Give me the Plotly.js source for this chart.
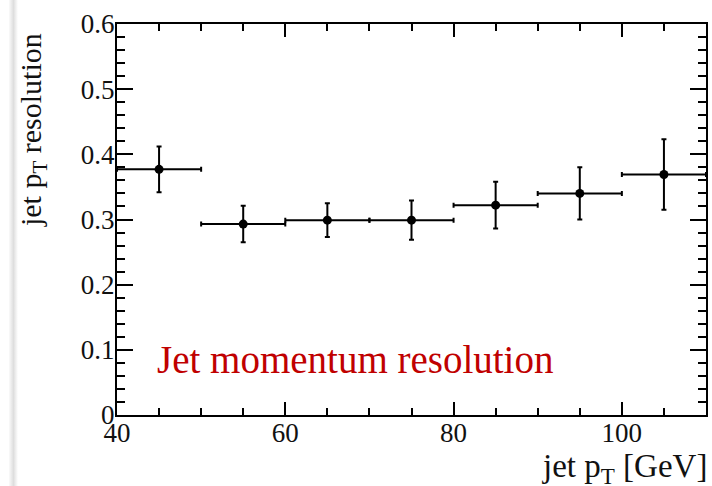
<!DOCTYPE html>
<html>
<head>
<meta charset="utf-8">
<script src="https://cdn.plot.ly/plotly-3.0.1.min.js"></script>
<style>
  html, body { margin: 0; padding: 0; background: #fff; }
  #chart { width: 712px; height: 486px; position: relative; }
  #edge {
    position: absolute; left: 9px; top: 0; width: 9px; height: 486px;
    background: linear-gradient(to right, rgba(0,0,0,0.02), rgba(0,0,0,0.13) 50%, rgba(0,0,0,0.0));
    pointer-events: none; z-index: 5;
  }
</style>
</head>
<body>
<div id="chart"></div>
<div id="edge"></div>
<script>
// Jet pT bins (GeV): bin centres and half widths
const binCenters = [45, 55, 65, 75, 85, 95, 105];
const binHalfWidths = [5, 5, 5, 5, 5, 5, 5];
// Fitted relative resolution per bin and its uncertainty
const resolution = [0.377, 0.293, 0.299, 0.299, 0.322, 0.340, 0.369];
const resolutionErr = [0.035, 0.028, 0.026, 0.030, 0.036, 0.040, 0.054];

const yTickValues = [0, 0.1, 0.2, 0.3, 0.4, 0.5, 0.6];
const yTickLabels = ['0', '0.1', '0.2', '0.3', '0.4', '0.5', '0.6'];
const xTickValues = [40, 60, 80, 100];
const xTickLabels = ['40', '60', '80', '100'];

const serif = '"Liberation Serif", "Times New Roman", serif';

const trace = {
  type: 'scatter',
  mode: 'markers',
  x: binCenters,
  y: resolution,
  marker: { color: '#000', size: 9, symbol: 'circle' },
  error_x: { type: 'data', array: binHalfWidths, color: '#000', thickness: 2, width: 2.5 },
  error_y: { type: 'data', array: resolutionErr, color: '#000', thickness: 2, width: 2.5 },
  hoverinfo: 'x+y'
};

const axisCommon = {
  showgrid: false,
  zeroline: false,
  showline: true,
  linecolor: '#000',
  linewidth: 2,
  mirror: 'ticks',
  ticks: 'inside',
  tickcolor: '#000',
  tickwidth: 2,
  tickfont: { family: serif, size: 27, color: '#111' }
};

const layout = {
  width: 712,
  height: 486,
  margin: { l: 117, r: 6, t: 24, b: 71 },
  paper_bgcolor: '#fff',
  plot_bgcolor: '#fff',
  showlegend: false,
  font: { family: serif, color: '#000' },
  xaxis: Object.assign({}, axisCommon, {
    range: [40, 110],
    tickmode: 'array',
    tickvals: xTickValues,
    ticktext: xTickLabels,
    ticklen: 13,
    ticklabelstandoff: -7,
    minor: { ticks: 'inside', dtick: 5, tick0: 40, ticklen: 7, tickwidth: 2, tickcolor: '#000', showgrid: false }
  }),
  yaxis: Object.assign({}, axisCommon, {
    range: [0, 0.6],
    tickmode: 'array',
    tickvals: yTickValues,
    ticktext: yTickLabels,
    ticklen: 16,
    ticklabelstandoff: -5,
    minor: { ticks: 'inside', dtick: 0.02, tick0: 0, ticklen: 8, tickwidth: 2, tickcolor: '#000', showgrid: false }
  }),
  annotations: [
    {
      text: 'jet p<sub>T</sub> [GeV]',
      xref: 'paper', yref: 'paper',
      x: 1.005, y: -0.138,
      xanchor: 'right', yanchor: 'middle',
      showarrow: false,
      font: { family: serif, size: 33, color: '#111' }
    },
    {
      text: 'jet p<sub>T</sub> resolution',
      xref: 'paper', yref: 'paper',
      x: -0.1426, y: 0.982,
      xanchor: 'center', yanchor: 'top',
      textangle: -90,
      showarrow: false,
      font: { family: serif, size: 30, color: '#111' }
    },
    {
      text: 'Jet momentum resolution',
      xref: 'paper', yref: 'paper',
      x: 0.0645, y: 0.1407,
      xanchor: 'left', yanchor: 'middle',
      showarrow: false,
      font: { family: serif, size: 39, color: '#c00000' }
    }
  ]
};

Plotly.newPlot('chart', [trace], layout, { displayModeBar: false, staticPlot: true });
</script>
</body>
</html>
